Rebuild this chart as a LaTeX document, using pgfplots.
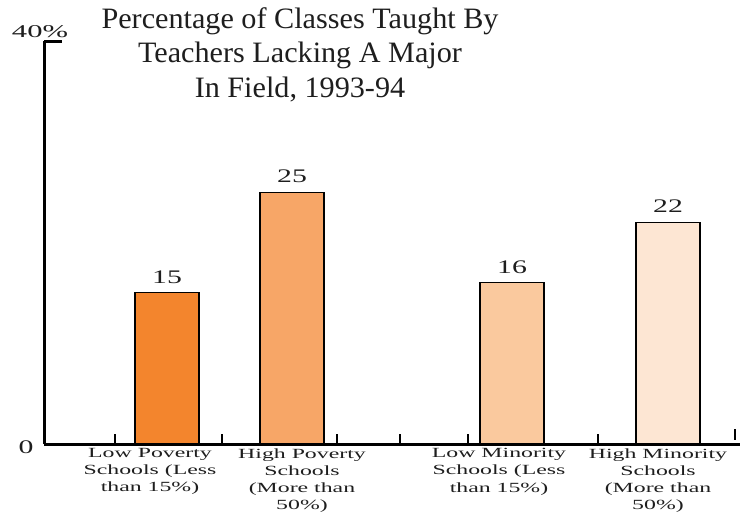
\documentclass[border=0pt]{standalone}
\usepackage{pgfplots}
\pgfplotsset{compat=1.18}
\usepackage{fontspec}
\setmainfont{Liberation Serif}
% the reference text is set wide, as if stretched
\newfontfamily\labfont[FakeStretch=1.7]{Liberation Serif}
\newfontfamily\numfont[FakeStretch=1.55]{Liberation Serif}
\newfontfamily\titlefont[FakeStretch=1.02]{Liberation Serif}
\definecolor{barA}{RGB}{243,133,45}
\definecolor{barB}{RGB}{247,166,103}
\definecolor{barC}{RGB}{250,201,158}
\definecolor{barD}{RGB}{253,230,211}
\definecolor{ink}{RGB}{30,30,30}
\begin{document}
\begin{tikzpicture}
\useasboundingbox (0,0) rectangle (374pt,257pt);
\begin{axis}[
    at={(22pt,35pt)}, anchor=south west,
    scale only axis, width=348pt, height=201.5pt,
    xmin=44, xmax=740, ymin=0, ymax=40,
    axis x line=bottom, axis y line=left,
    axis line style={line width=1.5pt, -, black},
    ytick=\empty,
    extra y ticks={40}, extra y tick labels={},
    extra y tick style={major tick length=9pt, tick align=inside,
        tick style={line width=1.5pt, black}},
    xtick={150,302,499,658},
    xticklabels={Low Poverty\\Schools (Less\\than 15\%),
                 High Poverty\\Schools\\(More than\\50\%),
                 Low Minority\\Schools (Less\\than 15\%),
                 High Minority\\Schools\\(More than\\50\%)},
    xticklabel style={align=center, text=ink,
        font=\labfont\fontsize{7}{8.6}\selectfont, inner sep=0pt, yshift=-2pt},
    major tick length=0pt,
    extra x ticks={115,222,337,400,468,598},
    extra x tick labels={},
    extra x tick style={major tick length=5pt, tick align=inside,
        tick style={line width=1pt, black}},
    /pgf/number format/assume math mode=true,
    nodes near coords style={text=ink, font=\numfont\fontsize{9.6}{10}\selectfont,
        inner sep=0pt, yshift=4.5pt},
    clip=false,
  ]
  \addplot[ybar, bar width=64, bar shift=0pt, fill=barA, draw=black, line width=0.6pt,
    nodes near coords] coordinates {(167,15)};
  \addplot[ybar, bar width=64, bar shift=0pt, fill=barB, draw=black, line width=0.6pt,
    nodes near coords] coordinates {(292,25)};
  \addplot[ybar, bar width=64, bar shift=0pt, fill=barC, draw=black, line width=0.6pt,
    nodes near coords] coordinates {(512,16)};
  \addplot[ybar, bar width=64, bar shift=0pt, fill=barD, draw=black, line width=0.6pt,
    nodes near coords] coordinates {(668,22)};
  \draw[line width=1pt] (axis cs:735,0.4) -- (axis cs:735,1.5);
  \node[anchor=east, inner sep=0pt, text=ink, font=\numfont\fontsize{9.6}{10}\selectfont]
    at (axis cs:34,-0.3) {0};
  \node[anchor=base, inner sep=0pt, text=ink, font=\labfont\fontsize{9}{10}\selectfont]
    at (axis cs:40,40.35) {40\%};
\end{axis}
\node[anchor=north, inner sep=0pt, align=center, text=ink,
  font=\titlefont\fontsize{14.8}{17.2}\selectfont]
  at (150pt,253.5pt) {Percentage of Classes Taught By\\Teachers Lacking A Major\\In Field, 1993-94};
\end{tikzpicture}
\end{document}
